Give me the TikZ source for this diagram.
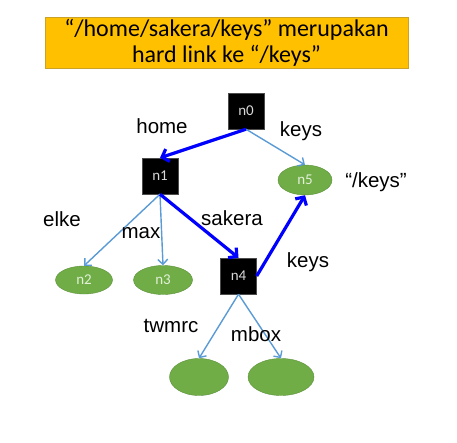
\documentclass[tikz,border=0pt]{standalone}
\usepackage{fontspec}
\setmainfont{Carlito}
\newfontfamily\labelfont{Liberation Sans}
\usetikzlibrary{arrows.meta, shapes.geometric}

\definecolor{gold}{HTML}{FFC000}
\definecolor{golddark}{HTML}{C9A227}
\definecolor{leaf}{HTML}{70AD47}
\definecolor{leafdark}{HTML}{5A8F38}
\definecolor{leaftext}{HTML}{E2F0D9}
\definecolor{lightlink}{HTML}{5B9BD5}

\tikzset{
    dirnode/.style={fill=black, draw=black!70, minimum size=36pt, inner sep=0pt,
        text=white!85!black, font=\fontsize{15}{17}\selectfont},
    filenode/.style={ellipse, fill=leaf, draw=leafdark, inner sep=0pt,
        text=leaftext, font=\fontsize{15}{17}\selectfont},
    thinlink/.style={draw=lightlink, line width=1.4pt, -{Straight Barb[length=5pt,width=10pt]}},
    pathlink/.style={draw=blue, line width=3.2pt, -{Straight Barb[length=6pt,width=13pt]}},
    lbl/.style={font=\labelfont\fontsize{20.5}{22}\selectfont, inner sep=0pt}
}

\begin{document}
\begin{tikzpicture}[x=1pt, y=-1pt]
    \useasboundingbox (0,0) rectangle (457,442);
    % caption box
    \node[fill=gold, draw=golddark, line width=0.8pt, minimum width=363pt, minimum height=51pt,
          align=center, inner sep=0pt, font=\fontsize{24}{26}\selectfont] (title) at (226.5,42.5)
        {“/home/sakera/keys” merupakan\\hard link ke “/keys”};
    % directories
    \node[dirnode] (n0) at (246,111) {n0};
    \node[dirnode] (n1) at (160,176) {n1};
    \node[dirnode] (n4) at (238.5,276) {n4};
    % files
    \node[filenode, minimum width=54pt, minimum height=30pt] (n5) at (305,180) {n5};
    \node[filenode, minimum width=57pt, minimum height=28pt] (n2) at (84,280) {n2};
    \node[filenode, minimum width=59pt, minimum height=29pt] (n3) at (163,280) {n3};
    \node[filenode, minimum width=59pt, minimum height=37pt] (n6) at (199,377) {};
    \node[filenode, minimum width=66pt, minimum height=37pt] (n7) at (281,377) {};
    % links
    \draw[thinlink] (n0.south) -- (n5.north);
    \draw[thinlink] (n1.south) -- (n2.north);
    \draw[thinlink] (n1.south) -- (n3.north);
    \draw[thinlink] (n4.south) -- (n6.north);
    \draw[thinlink] (n4.south) -- (n7.north);
    \draw[pathlink] (n0.south) -- (n1.north);
    \draw[pathlink] (n1.south) -- (n4.north);
    \draw[pathlink] (n4.east) -- (n5.south);
    % names
    \node[lbl] (lhome) at (162,126) {home};
    \node[lbl] (lkeys) at (301,131) {keys};
    \node[lbl] (lroot) at (376,182) {“/keys”};
    \node[lbl] (lsakera) at (232,218) {sakera};
    \node[lbl] (lkeys2) at (308,262) {keys};
    \node[lbl] (lelke) at (62,219) {elke};
    \node[lbl] (lmax) at (141,233) {max};
    \node[lbl] (ltwmrc) at (171,326) {twmrc};
    \node[lbl] (lmbox) at (256,334) {mbox};
\end{tikzpicture}
\end{document}
